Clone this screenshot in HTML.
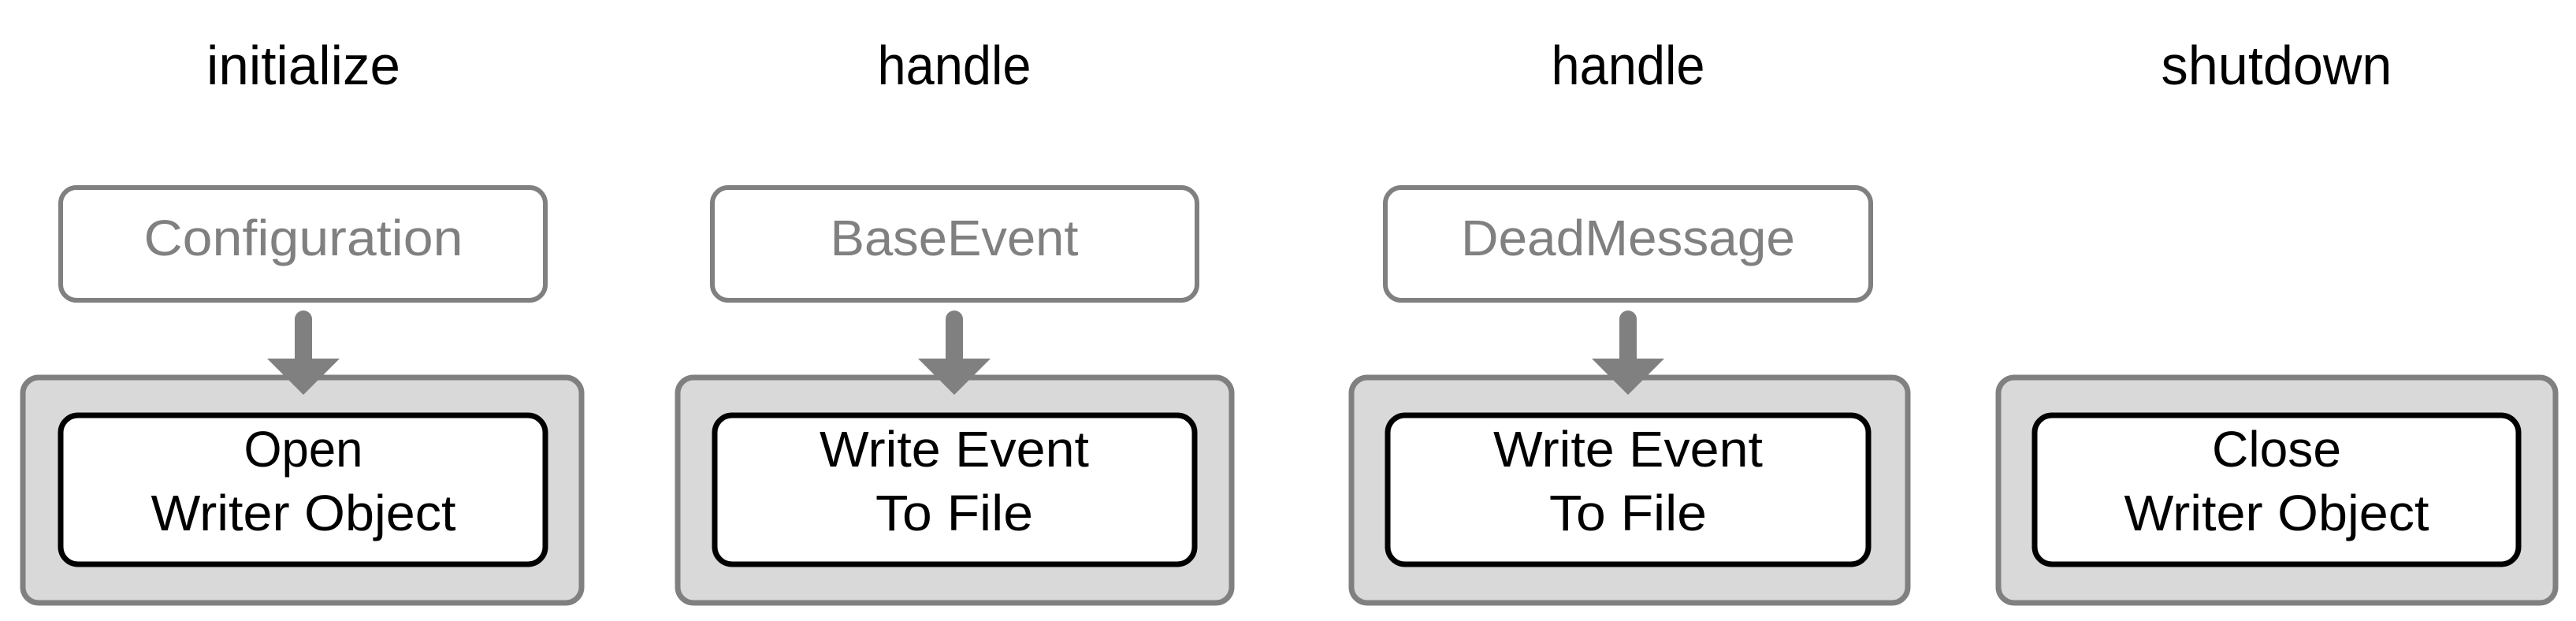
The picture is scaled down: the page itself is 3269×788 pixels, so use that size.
<!DOCTYPE html>
<html><head><style>html,body{margin:0;padding:0;background:#fff}svg{display:block}</style></head>
<body>
<svg width="3269" height="788" viewBox="0 0 3269 788" xmlns="http://www.w3.org/2000/svg" font-family="'Liberation Sans', sans-serif">
<g text-anchor="middle" font-size="70" fill="#000">
<text x="385" y="107" textLength="246" lengthAdjust="spacingAndGlyphs">initialize</text>
<text x="1211" y="107" textLength="195" lengthAdjust="spacingAndGlyphs">handle</text>
<text x="2066" y="107" textLength="195" lengthAdjust="spacingAndGlyphs">handle</text>
<text x="2889" y="107" textLength="293" lengthAdjust="spacingAndGlyphs">shutdown</text>
</g>
<g transform="translate(0,-9)">
<g fill="#fff" stroke="#808080" stroke-width="6">
<rect x="77" y="247" width="615" height="143" rx="20"/>
<rect x="904" y="247" width="615" height="143" rx="20"/>
<rect x="1758" y="247" width="616" height="143" rx="20"/>
</g>
<g text-anchor="middle" font-size="64" fill="#808080">
<text x="385" y="333" textLength="405" lengthAdjust="spacingAndGlyphs">Configuration</text>
<text x="1211" y="333" textLength="315" lengthAdjust="spacingAndGlyphs">BaseEvent</text>
<text x="2066" y="333" textLength="424" lengthAdjust="spacingAndGlyphs">DeadMessage</text>
</g>
<g fill="#d9d9d9" stroke="#808080" stroke-width="7">
<rect x="29" y="488" width="709" height="286" rx="20"/>
<rect x="860" y="488" width="703" height="286" rx="20"/>
<rect x="1715" y="488" width="706" height="286" rx="20"/>
<rect x="2536" y="488" width="707" height="286" rx="20"/>
</g>
<g fill="#808080" stroke="#808080">
<line x1="385" y1="414" x2="385" y2="470" stroke-width="22" stroke-linecap="round"/>
<polygon points="339,464 431,464 385,510" stroke="none"/>
<line x1="1211" y1="414" x2="1211" y2="470" stroke-width="22" stroke-linecap="round"/>
<polygon points="1165,464 1257,464 1211,510" stroke="none"/>
<line x1="2066" y1="414" x2="2066" y2="470" stroke-width="22" stroke-linecap="round"/>
<polygon points="2020,464 2112,464 2066,510" stroke="none"/>
</g>
<g fill="#fff" stroke="#000" stroke-width="7">
<rect x="77" y="536" width="615" height="189" rx="22"/>
<rect x="907" y="536" width="609" height="189" rx="22"/>
<rect x="1761" y="536" width="610" height="189" rx="22"/>
<rect x="2582" y="536" width="614" height="189" rx="22"/>
</g>
<g text-anchor="middle" font-size="64" fill="#000">
<text x="385" y="601" textLength="151" lengthAdjust="spacingAndGlyphs">Open</text>
<text x="385" y="682" textLength="387" lengthAdjust="spacingAndGlyphs">Writer Object</text>
<text x="1211" y="601" textLength="342" lengthAdjust="spacingAndGlyphs">Write Event</text>
<text x="1211" y="682" textLength="200" lengthAdjust="spacingAndGlyphs">To File</text>
<text x="2066" y="601" textLength="342" lengthAdjust="spacingAndGlyphs">Write Event</text>
<text x="2066" y="682" textLength="200" lengthAdjust="spacingAndGlyphs">To File</text>
<text x="2889" y="601" textLength="164" lengthAdjust="spacingAndGlyphs">Close</text>
<text x="2889" y="682" textLength="387" lengthAdjust="spacingAndGlyphs">Writer Object</text>
</g>
</g>
</svg>
</body></html>
